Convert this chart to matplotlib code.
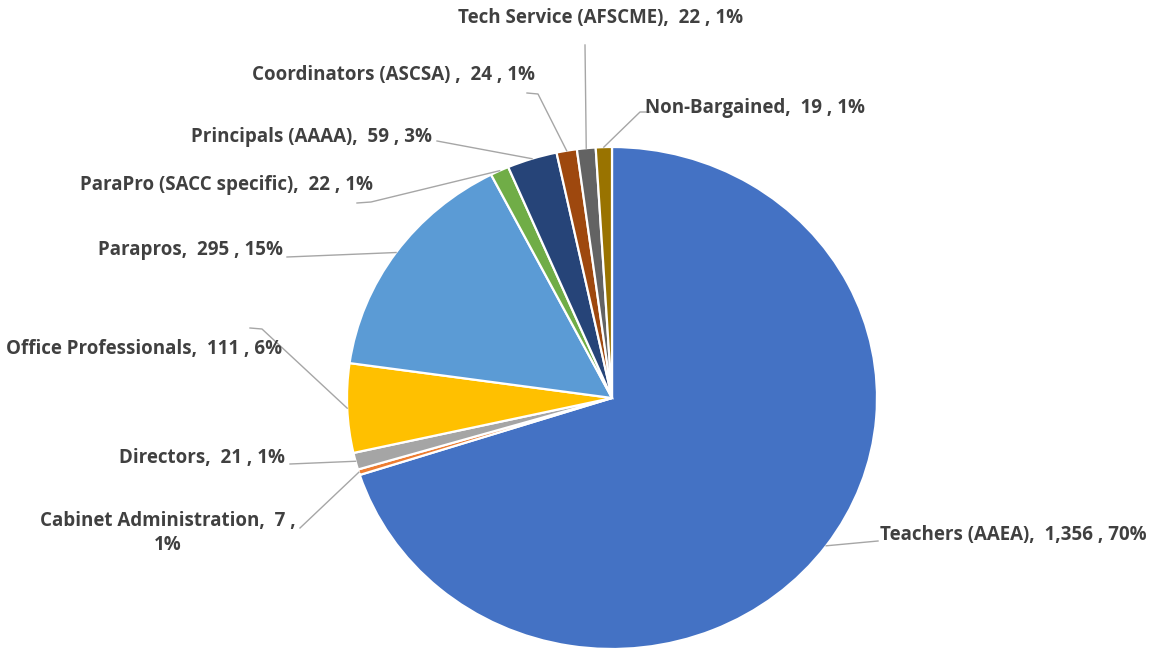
import numpy as np
import matplotlib.pyplot as plt

categories = ['Teachers (AAEA)', 'Cabinet Administration', 'Directors',
              'Office Professionals', 'Parapros', 'ParaPro (SACC specific)',
              'Principals (AAAA)', 'Coordinators (ASCSA) ', 'Tech Service (AFSCME)',
              'Non-Bargained']
counts = [1356, 7, 21, 111, 295, 22, 59, 24, 22, 19]
pct_labels = ['70%', '1%', '1%', '6%', '15%', '1%', '3%', '1%', '1%', '1%']
colors = ['#4472C4', '#ED7D31', '#A5A5A5', '#FFC000', '#5B9BD5',
          '#70AD47', '#264478', '#9E480E', '#636363', '#997300']

# pie centre / radii in image pixels
CX, CY, RX, RY = 612, 398, 265, 251
W, H = 1151, 648

def px(x, y):
    return (x - CX) / RX, (CY - y) / RY

# label layout: (x, y, ha, leader start points) in pixels
layout = [
    (880, 535, 'left', [(878, 541)]),
    (168, 533, 'center', [(300, 528)]),
    (285, 458, 'right', [(290, 464)]),
    (282, 349, 'right', [(250, 328), (262, 329)]),
    (283, 250, 'right', [(287, 257)]),
    (373, 185, 'right', [(357, 203), (371, 202)]),
    (432, 137, 'right', [(437, 141)]),
    (535, 75, 'right', [(527, 93), (538, 94)]),
    (601, 18, 'center', [(585, 45)]),
    (645, 108, 'left', [(650, 112), (640, 112)]),
]

fig = plt.figure(figsize=(W / 100, H / 100), dpi=100)
ax = fig.add_axes([(CX - RX) / W, (H - CY - RY) / H, 2 * RX / W, 2 * RY / H])

wedges, _ = ax.pie(counts, colors=colors, startangle=90, counterclock=False,
                   radius=1, wedgeprops=dict(edgecolor='white', linewidth=1.6))
for w in wedges:
    w.set_clip_on(False)
ax.set_aspect('auto')
ax.set_xlim(-1, 1)
ax.set_ylim(-1, 1)
ax.axis('off')

for i, w in enumerate(wedges):
    mid = np.deg2rad((w.theta1 + w.theta2) / 2)
    ex, ey = np.cos(mid), np.sin(mid)
    tx, ty, ha, pts = layout[i]
    line = [px(*p) for p in pts] + [(ex, ey)]
    ax.plot([p[0] for p in line], [p[1] for p in line], color='#A6A6A6',
            lw=1.0, clip_on=False)
    txt = f"{categories[i]},  {counts[i]:,} , {pct_labels[i]}"
    if i == 1:
        txt = f"{categories[i]},  {counts[i]:,} ,\n{pct_labels[i]}"
    lx, ly = px(tx, ty)
    ax.text(lx, ly, txt, ha=ha, va='center', fontsize=13.5, fontweight='bold',
            family=['Open Sans', 'DejaVu Sans'], color='#404040', clip_on=False,
            multialignment='center' if i == 1 else ha, linespacing=1.3)

fig.savefig('out.png', dpi=100)
